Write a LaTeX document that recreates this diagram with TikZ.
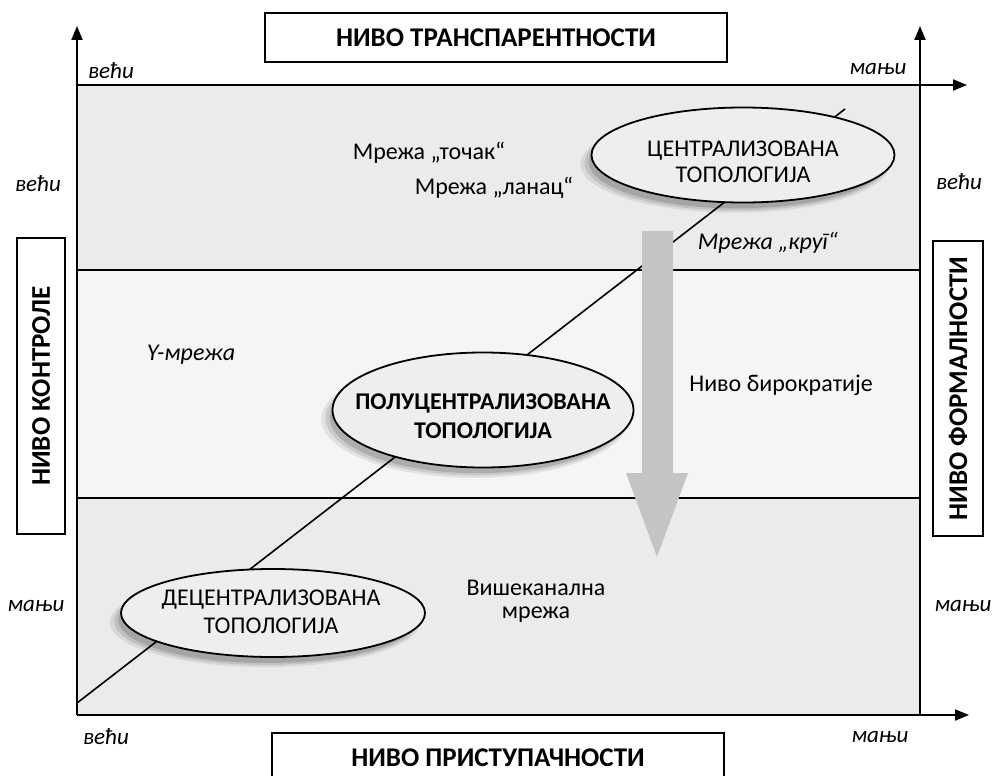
\documentclass[tikz,border=0pt]{standalone}
\usepackage{fontspec}
\setmainfont{Carlito}[Script=Cyrillic,Language=Serbian]
\usetikzlibrary{arrows.meta,shapes.geometric,shadows}
\definecolor{bandA}{HTML}{EBEBEB}
\definecolor{bandB}{HTML}{F5F5F5}
\definecolor{ellfill}{HTML}{EEEEEE}
\definecolor{arrowgray}{HTML}{C4C4C4}
\tikzset{
  axis/.style={line width=2pt,-{Triangle[length=14pt,width=11pt]}},
  bandline/.style={line width=1.6pt},
  txt/.style={font=\fontsize{24}{23}\selectfont},
  itxt/.style={font=\fontsize{24}{25}\selectfont\itshape},
  lab/.style={font=\fontsize{23}{25}\selectfont\itshape},
  titlebox/.style={draw,line width=2pt,fill=white,font=\fontsize{27}{29}\selectfont\bfseries,inner sep=0pt},
  ell/.style={ellipse,draw,line width=1.8pt,fill=ellfill,inner sep=0pt,
    drop shadow={shadow xshift=-8pt,shadow yshift=-9pt,fill=black,opacity=0.08,shadow scale=1.02},
    drop shadow={shadow xshift=-7pt,shadow yshift=-8pt,fill=black,opacity=0.10},
    drop shadow={shadow xshift=-6pt,shadow yshift=-7pt,fill=black,opacity=0.14,shadow scale=0.98}},
  elltext/.style={align=center,inner sep=0pt,font=\fontsize{24}{26.5}\selectfont},
}
\begin{document}
\begin{tikzpicture}[x=1pt,y=-1pt]
\useasboundingbox (0,0) rectangle (993,776);
\fill[white] (0,0) rectangle (993,776);
% corners
\coordinate (TL) at (77,85);
\coordinate (TR) at (920,85);
\coordinate (BL) at (77,715);
\coordinate (BR) at (920,715);
\coordinate (L1) at (77,270);
\coordinate (R1) at (920,270);
\coordinate (L2) at (77,498);
\coordinate (R2) at (920,498);
\coordinate (LT) at (77,26);
\coordinate (RT) at (920,26);
\coordinate (TX) at (967,85);
\coordinate (BX) at (969,715);
% bands
\fill[bandA] (TL) rectangle (R1);
\fill[bandB] (L1) rectangle (R2);
\fill[bandA] (L2) rectangle (BR);
% diagonal
\coordinate (d0) at (77,703);
\coordinate (d1) at (845,109);
\draw[line width=1.6pt] (d0) -- (d1);
% band lines
\draw[bandline] (L1) -- (R1);
\draw[bandline] (L2) -- (R2);
% axes
\draw[axis] (BL) -- (LT);
\draw[axis] (BR) -- (RT);
\draw[axis] (TL) -- (TX);
\draw[axis] (BL) -- (BX);
% big gray arrow
\fill[arrowgray] (642,231) -- (673,231) -- (673,473) -- (688,473) -- (657,557) -- (626,473) -- (642,473) -- cycle;
% ellipses
\node[ell,minimum width=303,minimum height=95] (cen) at (743,155) {};
\node[ell,minimum width=301,minimum height=115] (semi) at (483,410) {};
\node[ell,minimum width=304,minimum height=88] (dec) at (273,613) {};
\node[elltext] (centxt) at (743,162) {ЦЕНТРАЛИЗОВАНА\\ТОПОЛОГИЈА};
\node[elltext,font=\fontsize{24}{28.5}\selectfont\bfseries] (semitxt) at (483,416) {ПОЛУЦЕНТРАЛИЗОВАНА\\ТОПОЛОГИЈА};
\node[elltext,font=\fontsize{24}{28}\selectfont] (dectxt) at (271,612) {ДЕЦЕНТРАЛИЗОВАНА\\ТОПОЛОГИЈА};
% texts
\node[txt] (tockak) at (429,153) {Мрежа „точак“};
\node[txt] (lanac) at (494,188) {Мрежа „ланац“};
\node[itxt] (krug) at (768,243) {Мрежа „круг“};
\node[itxt] (ymr) at (191,355) {Y-мрежа};
\node[txt] (biro) at (781,385) {Ниво бирократије};
\node[txt,align=center] (vise) at (536,601) {Вишеканална\\мрежа};
% axis labels
\node[lab] (l1) at (111,71) {већи};
\node[lab] (l2) at (878,69) {мањи};
\node[lab] (l3) at (38,184) {већи};
\node[lab] (l4) at (959,182) {већи};
\node[lab] (l5) at (36,606) {мањи};
\node[lab] (l6) at (963,606) {мањи};
\node[lab] (l7) at (106,737) {већи};
\node[lab] (l8) at (880,737) {мањи};
% title boxes
\node[titlebox,minimum width=462,minimum height=49] (ttop) at (496,37.5) {НИВО ТРАНСПАРЕНТНОСТИ};
\node[titlebox,minimum width=452,minimum height=50] (tbot) at (498,758) {НИВО ПРИСТУПАЧНОСТИ};
\node[titlebox,rotate=90,minimum width=296,minimum height=48] (tleft) at (41,386) {НИВО КОНТРОЛЕ};
\node[titlebox,rotate=90,minimum width=295,minimum height=50] (tright) at (958,388.5) {НИВО ФОРМАЛНОСТИ};
\end{tikzpicture}
\end{document}
